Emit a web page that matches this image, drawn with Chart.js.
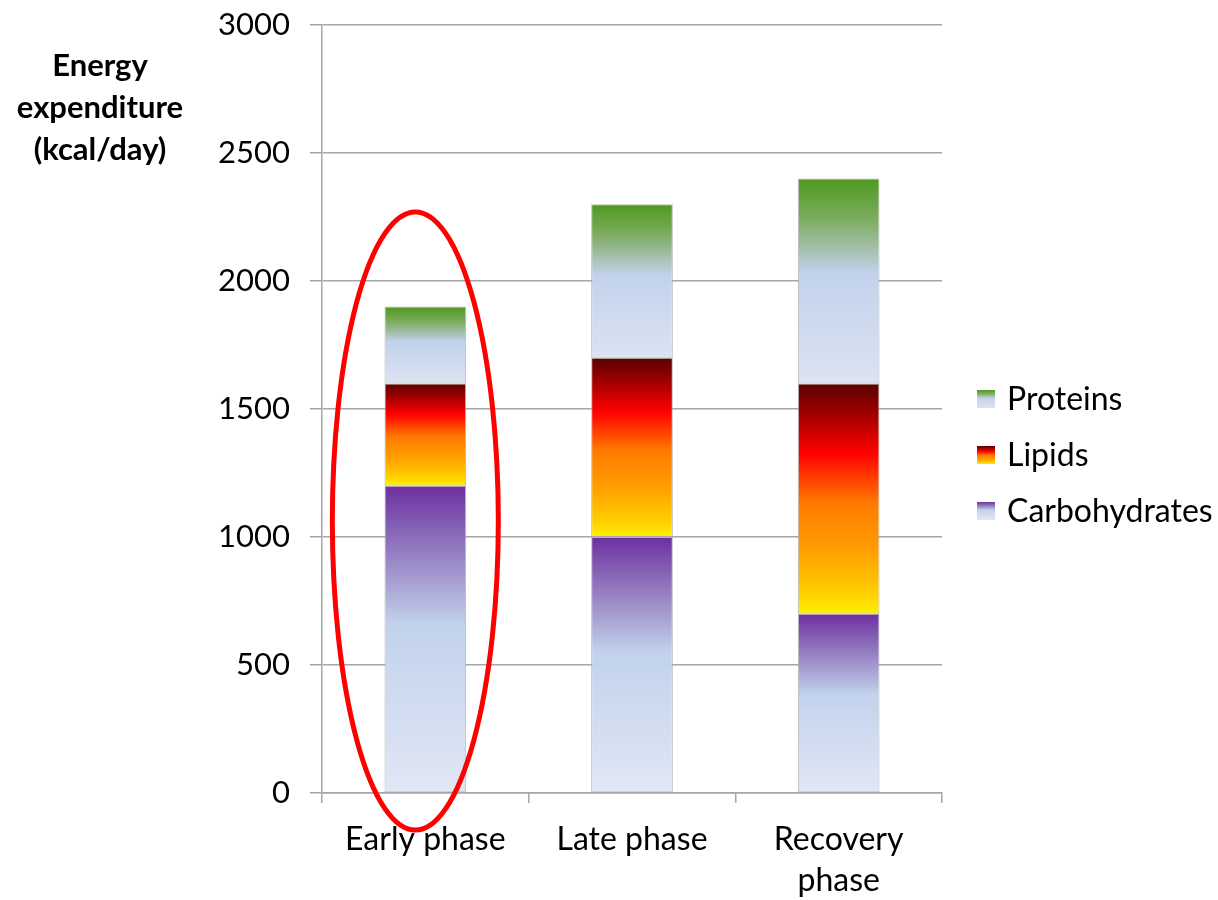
<!DOCTYPE html>
<html>
<head>
<meta charset="utf-8">
<title>Energy expenditure by phase</title>
<script src="https://cdn.jsdelivr.net/npm/chart.js@4.4.1/dist/chart.umd.min.js"></script>
<style>
  html, body { margin: 0; padding: 0; background: #ffffff; }
  #wrap { width: 1218px; height: 900px; }
</style>
</head>
<body>
<div id="wrap"><canvas id="chart" width="1218" height="900"></canvas></div>
<script>
// Phases on the x axis
const phases = ['Early phase', 'Late phase', ['Recovery', 'phase']];

// Energy from each substrate, kcal/day (stacked bottom to top)
const carbohydrates = [1200, 1000, 700];
const lipids = [400, 700, 900];
const proteins = [300, 600, 800];

// Y axis ticks
const yTicks = [0, 500, 1000, 1500, 2000, 2500, 3000];

const yTitleLines = ['Energy', 'expenditure', '(kcal/day)'];

// Vertical gradient stops for each substrate (0 = top of the segment)
const gradientStops = {
  Proteins: [[0, '#4F9A1F'], [0.18, '#78AA58'], [0.32, '#9FBCA0'], [0.46, '#C2D2EC'], [1, '#DCE3F2']],
  Lipids: [[0, '#5A0000'], [0.12, '#9A0000'], [0.3, '#FF0000'], [0.52, '#FF7A00'], [0.72, '#FF9E00'], [0.9, '#FFCC00'], [1, '#FFEE00']],
  Carbohydrates: [[0, '#6F2FA0'], [0.14, '#8663B6'], [0.3, '#A59BD0'], [0.45, '#C2D2EC'], [1, '#E1E7F5']]
};

const FONT = 'Lato, "Open Sans", sans-serif';

function makeGradient(ctx2d, stops, y0, y1) {
  const g = ctx2d.createLinearGradient(0, y0, 0, y1);
  stops.forEach(([p, c]) => g.addColorStop(p, c));
  return g;
}

// Fill each stacked segment with a gradient spanning that segment only
function segmentFill(context) {
  const chart = context.chart;
  const ds = chart.data.datasets[context.datasetIndex];
  const stops = gradientStops[ds.label];
  const yScale = chart.scales.y;
  if (!chart.chartArea || !yScale || context.dataIndex === undefined) {
    return stops[stops.length - 1][1];
  }
  let base = 0;
  for (let i = 0; i < context.datasetIndex; i++) {
    base += chart.data.datasets[i].data[context.dataIndex];
  }
  const top = base + ds.data[context.dataIndex];
  const y0 = yScale.getPixelForValue(top);
  const y1 = yScale.getPixelForValue(base);
  return makeGradient(chart.ctx, stops, y0, y1);
}

// Multi-line bold title to the left of the y axis
const yTitlePlugin = {
  id: 'yTitle',
  afterDraw(chart) {
    const c = chart.ctx;
    c.save();
    c.fillStyle = '#000';
    c.font = 'bold 31px ' + FONT;
    c.textAlign = 'center';
    c.textBaseline = 'alphabetic';
    const x = 100;
    const baselines = [76, 118, 160];
    yTitleLines.forEach((t, i) => c.fillText(t, x, baselines[i]));
    c.restore();
  }
};

// Legend on the right, listed top-down in stack order
const sideLegendPlugin = {
  id: 'sideLegend',
  afterDraw(chart) {
    const c = chart.ctx;
    const area = chart.chartArea;
    const items = chart.data.datasets.map(d => d.label).reverse();
    const boxX = area.right + 35;
    const box = 18;
    const rowGap = 56;
    const midY = (area.top + area.bottom) / 2 + 46;
    c.save();
    c.font = '32px ' + FONT;
    c.textBaseline = 'middle';
    c.textAlign = 'left';
    items.forEach((label, i) => {
      const cy = midY + (i - 1) * rowGap;
      const y0 = cy - box / 2;
      c.fillStyle = makeGradient(c, gradientStops[label], y0, y0 + box);
      c.fillRect(boxX, y0, box, box);
      c.fillStyle = '#000';
      c.fillText(label, boxX + 30, cy + 1);
    });
    c.restore();
  }
};

// Red ellipse highlighting the first phase
const highlightPlugin = {
  id: 'highlight',
  afterDraw(chart) {
    const x = chart.scales.x;
    const y = chart.scales.y;
    const cx = x.getPixelForValue(0) - 10;
    const top = y.getPixelForValue(2270);
    const bottom = y.getPixelForValue(-145);
    const c = chart.ctx;
    c.save();
    c.strokeStyle = '#FF0000';
    c.lineWidth = 5;
    c.beginPath();
    c.ellipse(cx, (top + bottom) / 2, 83, (bottom - top) / 2, 0, 0, Math.PI * 2);
    c.stroke();
    c.restore();
  }
};

const seriesNames = ['Carbohydrates', 'Lipids', 'Proteins'];
const seriesValues = [carbohydrates, lipids, proteins];

new Chart(document.getElementById('chart'), {
  type: 'bar',
  data: {
    labels: phases,
    datasets: seriesNames.map((name, i) => ({
      label: name,
      data: seriesValues[i],
      backgroundColor: segmentFill,
      borderColor: 'rgba(170,170,170,0.85)',
      borderWidth: 1,
      borderSkipped: false,
      categoryPercentage: 1,
      barPercentage: 0.395
    }))
  },
  options: {
    responsive: false,
    animation: false,
    devicePixelRatio: 1,
    layout: { padding: { top: 25, right: 276, bottom: 0, left: 0 } },
    plugins: {
      legend: { display: false },
      tooltip: { enabled: false }
    },
    scales: {
      x: {
        stacked: true,
        afterFit(scale) { scale.height = 107; },
        grid: {
          offset: true,
          drawOnChartArea: false,
          drawTicks: true,
          tickLength: 10,
          color: '#A6A6A6',
          lineWidth: 1.5
        },
        border: { display: true, color: '#A6A6A6', width: 1.5 },
        ticks: {
          color: '#000',
          padding: 16,
          maxRotation: 0,
          font: { family: FONT, size: 32, lineHeight: 1.28 }
        }
      },
      y: {
        stacked: true,
        min: 0,
        max: 3000,
        afterFit(scale) {
          scale.width = 322;
          scale.paddingTop = 0;
          scale.paddingBottom = 0;
        },
        afterBuildTicks(scale) { scale.ticks = yTicks.map(v => ({ value: v })); },
        grid: {
          color: '#A6A6A6',
          lineWidth: 1.5,
          tickLength: 12
        },
        border: { display: true, color: '#A6A6A6', width: 1.5 },
        ticks: {
          color: '#000',
          padding: 20,
          font: { family: FONT, size: 31 },
          callback: (v) => String(v)
        }
      }
    }
  },
  plugins: [yTitlePlugin, sideLegendPlugin, highlightPlugin]
});
</script>
</body>
</html>
